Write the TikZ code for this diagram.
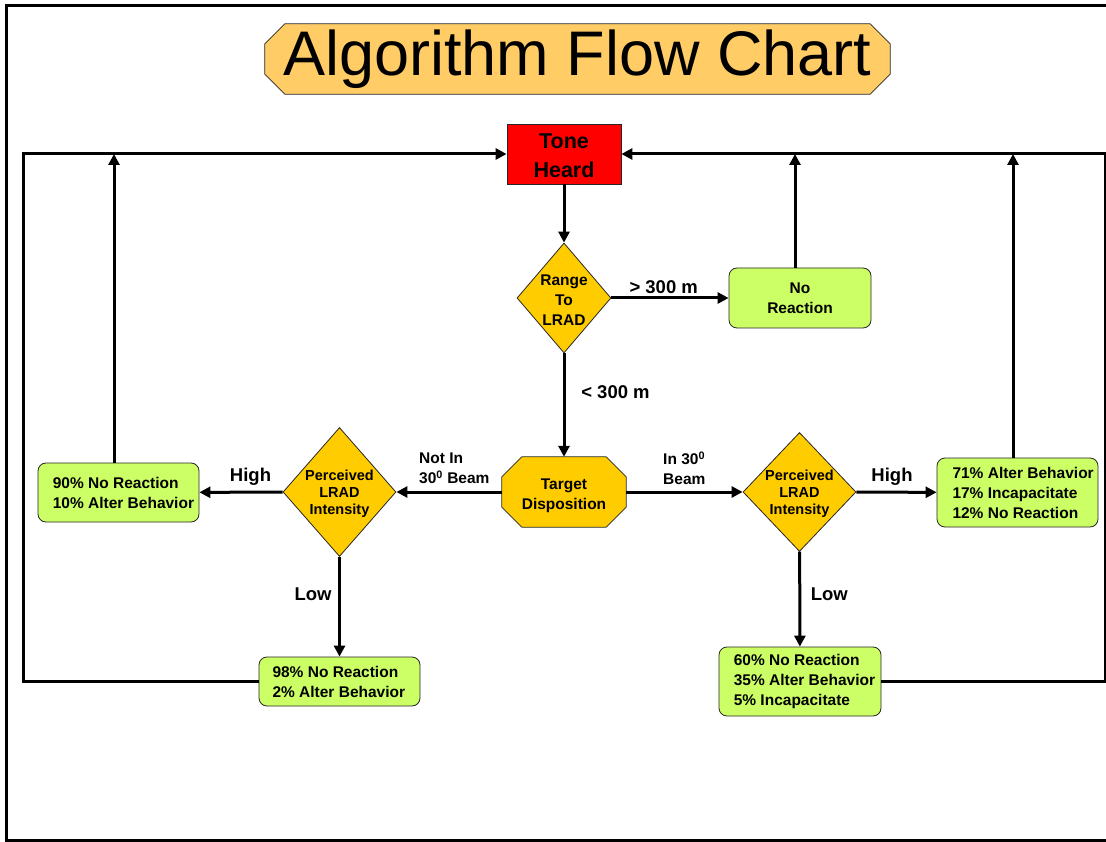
\documentclass[tikz,border=0pt]{standalone}
\usepackage{fontspec}
\setmainfont{Liberation Sans}
\usetikzlibrary{shapes.geometric,arrows.meta,backgrounds}
\definecolor{titlefill}{HTML}{FFCC66}
\definecolor{gold}{HTML}{FFCC00}
\definecolor{lime}{HTML}{CCFF66}
\newcommand\titlefnt{\fontsize{63}{70}\selectfont}
\newcommand\tonefnt{\fontsize{21.5}{28.7}\selectfont\bfseries}
\newcommand\boxfnt{\fontsize{15.5}{20}\selectfont\bfseries}
\newcommand\diafnt{\fontsize{14.5}{16.8}\selectfont\bfseries}
\newcommand\rangefnt{\fontsize{15.5}{20}\selectfont\bfseries}
\newcommand\lblfnt{\fontsize{18.5}{22}\selectfont\bfseries}
\begin{document}
\begin{tikzpicture}[x=1pt,y=-1pt,
  conn/.style={line width=3pt,-{Triangle[length=11pt,width=11pt]}},
  outline/.style={draw=black!85,line width=0.8pt},
  dia/.style={outline,diamond,fill=gold,inner sep=0pt},
  res/.style={outline,rectangle,rounded corners=8pt,fill=lime,inner sep=0pt},
  octo/.style={rectangle,inner sep=0pt,align=center},
  ctext/.style={inner sep=0pt,align=center,yshift=-2pt},
  ltext/.style={anchor=west,inner sep=0pt,align=left,font=\boxfnt},
  lbl/.style={inner sep=0pt,font=\lblfnt},
  beam/.style={inner sep=0pt,align=left,font=\boxfnt,anchor=west}
]
\useasboundingbox (0,0) rectangle (1106,842);
% outer frame
\draw[line width=3pt] (1115,5.5) -- (6.5,5.5) -- (6.5,840) -- (1115,840);

% title
\node[octo,minimum width=625pt,minimum height=70pt,font=\titlefnt] (title) at (577.5,59) {Algorithm Flow Chart};

% main nodes
\node[outline,rectangle,fill=red,minimum width=114pt,minimum height=60pt,inner sep=0pt,
  label={[ctext,font=\tonefnt]center:{Tone\\Heard}}] (tone) at (564,154) {};
\node[dia,minimum width=94pt,minimum height=110pt,
  label={[ctext,font=\rangefnt]center:{Range\\To\\LRAD}}] (range) at (564,298) {};
\node[res,minimum width=142pt,minimum height=60pt,align=center,font=\boxfnt] (noreact) at (800,298) {No\\Reaction};
\node[octo,minimum width=124pt,minimum height=70pt,
  label={[ctext,yshift=-1.5pt,font=\boxfnt]center:{Target\\Disposition}}] (td) at (564,492) {};
\node[dia,minimum width=113pt,minimum height=129pt,
  label={[ctext,font=\diafnt]center:{Perceived\\LRAD\\Intensity}}] (dl) at (339.5,492) {};
\node[dia,minimum width=113pt,minimum height=119pt,
  label={[ctext,font=\diafnt]center:{Perceived\\LRAD\\Intensity}}] (dr) at (799.5,492) {};

% octagon outlines behind their texts
\begin{scope}[on background layer]
\draw[outline,fill=titlefill] ([xshift=20pt]title.north west) -- ([xshift=-20pt]title.north east)
  -- ([yshift=-20pt]title.north east) -- ([yshift=20pt]title.south east)
  -- ([xshift=-20pt]title.south east) -- ([xshift=20pt]title.south west)
  -- ([yshift=20pt]title.south west) -- ([yshift=-20pt]title.north west) -- cycle;
\draw[outline,fill=gold] ([xshift=20pt]td.north west) -- ([xshift=-20pt]td.north east)
  -- ([yshift=-20pt]td.north east) -- ([yshift=20pt]td.south east)
  -- ([xshift=-20pt]td.south east) -- ([xshift=20pt]td.south west)
  -- ([yshift=20pt]td.south west) -- ([yshift=-20pt]td.north west) -- cycle;
\end{scope}

% result boxes
\node[res,minimum width=161pt,minimum height=59pt,
  label={[ltext,xshift=15pt]west:{90\% No Reaction\\10\% Alter Behavior}}] (b90) at (118.5,492.5) {};
\node[res,minimum width=161pt,minimum height=49pt,
  label={[ltext,xshift=13.7pt]west:{98\% No Reaction\\2\% Alter Behavior}}] (b98) at (339.5,681.5) {};
\node[res,minimum width=161pt,minimum height=69pt,
  label={[ltext,xshift=15.7pt]west:{71\% Alter Behavior\\17\% Incapacitate\\12\% No Reaction}}] (b71) at (1017.5,492.5) {};
\node[res,minimum width=162pt,minimum height=69pt,
  label={[ltext,xshift=15pt]west:{60\% No Reaction\\35\% Alter Behavior\\5\% Incapacitate}}] (b60) at (800,681.5) {};

% connector labels
\node[lbl] (gt300) at (663.7,287) {> 300 m};
\node[lbl] (lt300) at (615.5,392) {< 300 m};
\node[lbl] (highL) at (250.5,477) {High};
\node[lbl] (highR) at (892,477) {High};
\node[lbl] (lowL) at (313,594) {Low};
\node[lbl] (lowR) at (829.3,594) {Low};
\node[beam] (notin) at (419,468) {Not In\\30\textsuperscript{0} Beam};
\node[beam] (inbeam) at (663,468) {In 30\textsuperscript{0}\\Beam};

% coordinates
\coordinate (nrtop) at ([xshift=-5pt]noreact.north);
\coordinate (b90top) at ([xshift=-4.5pt]b90.north);
\coordinate (b71top) at ([xshift=-4.5pt]b71.north);
\coordinate (lb) at (23,681.5);
\coordinate (lt) at (23,154);
\coordinate (rb) at (1105,681.5);
\coordinate (rt) at (1105,154);

% connectors
\draw[conn] (tone) -- (range);
\draw[conn] (range) -- (noreact);
\draw[conn] (nrtop) -- (nrtop |- tone.east);
\draw[conn] (range) -- (td);
\draw[conn] (td) -- (dl);
\draw[conn] (dl) -- (b90);
\draw[conn] (dl) -- (b98);
\draw[conn] (td) -- (dr);
\draw[conn] (dr) -- (b71);
\draw[conn] (dr) -- (b60);
\draw[conn] (b90top) -- (b90top |- tone.west);
\draw[conn] (b71top) -- (b71top |- tone.east);
\draw[conn] (b98.west) -- (lb) -- (lt) -- (tone.west);
\draw[conn] (b60.east) -- (rb) -- (rt) -- (tone.east);
\end{tikzpicture}
\end{document}
